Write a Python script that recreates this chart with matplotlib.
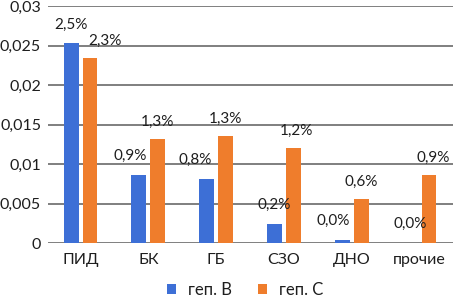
import matplotlib
matplotlib.use("Agg")
import matplotlib.pyplot as plt
import numpy as np

plt.rcParams['font.family'] = ['Lato', 'DejaVu Sans']

# data
categories = ['ПИД', 'БК', 'ГБ', 'СЗО', 'ДНО', 'прочие']
gep_b = [0.0253, 0.0086, 0.0082, 0.0024, 0.0004, 0.0]
gep_c = [0.0235, 0.0132, 0.0136, 0.0121, 0.0056, 0.0087]
labels_b = ['2,5%', '0,9%', '0,8%', '0,2%', '0,0%', '0,0%']
labels_c = ['2,3%', '1,3%', '1,3%', '1,2%', '0,6%', '0,9%']
yticks = [0, 0.005, 0.01, 0.015, 0.02, 0.025, 0.03]
ytick_labels = ['0', '0,005', '0,01', '0,015', '0,02', '0,025', '0,03']
series_names = ['геп. В', 'геп. С']

# label nudges in px (Excel moved some labels sideways)
dx_b = [0, -9, -11, 0, -9, 0]
dx_c = [15, 0, 0, 3, 0, 4]

blue = '#3d6fd6'
orange = '#ef7d2c'
txt = '#1e1e1e'

fig = plt.figure(figsize=(4.55, 3.02), dpi=100)
ax = fig.add_axes([48 / 455, 58.7 / 302, 405.4 / 455, 237 / 302])

x = np.arange(len(categories))
w = 0.22
off = 0.14
ax.bar(x - off, gep_b, w, color=blue, label=series_names[0], zorder=3)
ax.bar(x + off, gep_c, w, color=orange, label=series_names[1], zorder=3)

px = 72 / 100  # points per pixel
for i in range(len(categories)):
    ax.annotate(labels_b[i], (x[i] - off, gep_b[i]), xytext=(dx_b[i] * px, 19 * px),
                textcoords='offset points', ha='center', va='center',
                fontsize=11, color=txt, zorder=4)
    ax.annotate(labels_c[i], (x[i] + off, gep_c[i]), xytext=(dx_c[i] * px, 17 * px),
                textcoords='offset points', ha='center', va='center',
                fontsize=11, color=txt, zorder=4)

ax.set_xlim(-0.48, 5.5)
ax.set_ylim(0, 0.03)
ax.set_yticks(yticks)
ax.set_yticklabels(ytick_labels)
ax.set_xticks(x)
ax.set_xticklabels(categories)
ax.tick_params(axis='both', length=0, labelsize=11.5, colors=txt)
ax.tick_params(axis='y', pad=5)
ax.tick_params(axis='x', pad=7)
ax.grid(axis='y', color='#7f7f7f', linewidth=1.4, zorder=0)
for s in ax.spines.values():
    s.set_visible(False)

fig.legend(loc='center', bbox_to_anchor=(245 / 455, 1 - 290 / 302), ncol=2,
           frameon=False, fontsize=12, handlelength=0.55, handleheight=0.55,
           handletextpad=0.7, columnspacing=1.6, labelcolor=txt)

fig.savefig('out.png', dpi=100)
